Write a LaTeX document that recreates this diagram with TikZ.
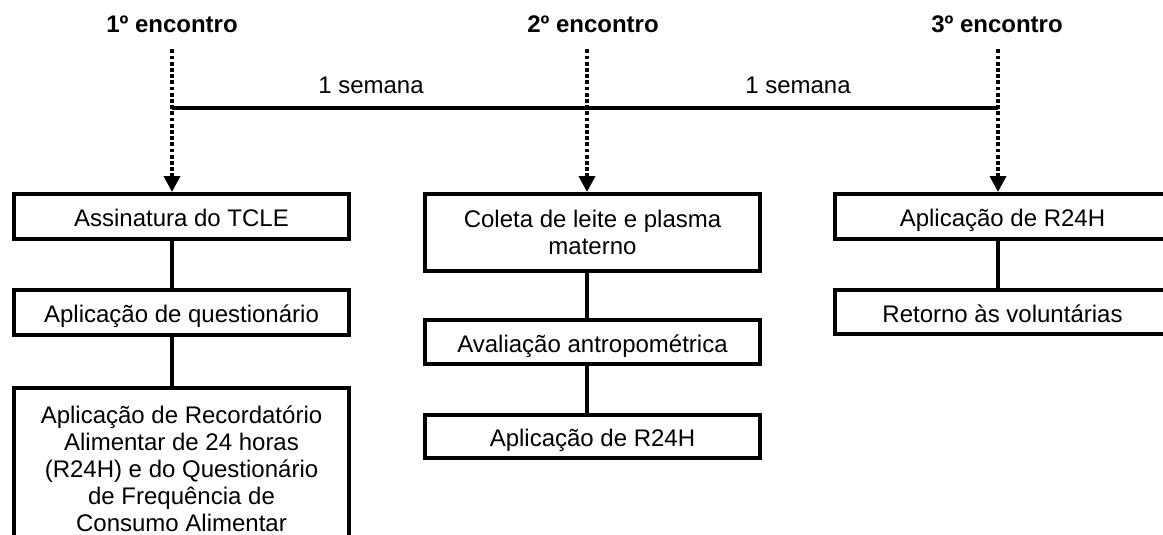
\documentclass[tikz,border=0pt]{standalone}
\usepackage{fontspec}
\setmainfont{Liberation Sans}
\usetikzlibrary{arrows.meta}
\tikzset{
  txt/.style={font=\fontsize{24}{27.5}\selectfont, inner sep=0pt},
  hdr/.style={font=\bfseries\fontsize{24}{27.5}\selectfont, inner xsep=0pt, inner ysep=16pt, anchor=base},
  boxnode/.style={draw, line width=4pt, font=\fontsize{24}{27}\selectfont, align=center,
    minimum width=335pt, inner sep=0pt},
  oneline/.style={text height=22pt, text depth=2pt},
  link/.style={line width=4pt},
  dotarrow/.style={line width=3.8pt, dash pattern=on 3.8pt off 2.4pt,
    -{Triangle[width=16pt,length=16pt]}},
}
\begin{document}
\begin{tikzpicture}[x=1pt,y=-1pt]
\useasboundingbox (0,0) rectangle (1163,535);
\clip (0,0) rectangle (1163,535);
\fill[white] (0,0) rectangle (1163,535);

% headers
\node[hdr] (h1) at (172,33) {1º encontro};
\node[hdr] (h2) at (593,33) {2º encontro};
\node[hdr] (h3) at (997,33) {3º encontro};

% timeline points
\coordinate (t1) at (172,108);
\coordinate (t2) at (587,108);
\coordinate (t3) at (998,108);

\node[txt, anchor=base] (w1) at (371,93) {1 semana};
\node[txt, anchor=base] (w2) at (798,93) {1 semana};

% boxes: first meeting
\node[boxnode, oneline, minimum height=45pt] (B1) at (181.5,216.5) {Assinatura do TCLE};
\node[boxnode, oneline, minimum height=45pt] (B2) at (181.5,312.5) {Aplicação de questionário};
\node[boxnode, minimum height=163pt] (B3) at (181.5,469)
  {Aplicação de Recordatório\\Alimentar de 24 horas\\(R24H) e do Questionário\\de Frequência de\\Consumo Alimentar};

% boxes: second meeting
\node[boxnode, minimum height=77pt] (M1) at (592.5,232.5) {Coleta de leite e plasma\\materno};
\node[boxnode, oneline, minimum height=44pt] (M2) at (592.5,342) {Avaliação antropométrica};
\node[boxnode, oneline, minimum height=43pt] (M3) at (592.5,436.5) {Aplicação de R24H};

% boxes: third meeting
\node[boxnode, oneline, minimum height=45pt] (R1) at (1002.5,216.5) {Aplicação de R24H};
\node[boxnode, oneline, minimum height=44pt] (R2) at (1002.5,312) {Retorno às voluntárias};

% timeline
\draw[line width=3.3pt] (t1) -- (t3);

% dotted arrows
\draw[dotarrow] (h1.south -| t1) -- (B1.north -| t1);
\draw[dotarrow] (h2.south -| t2) -- (M1.north -| t2);
\draw[dotarrow] (h3.south -| t3) -- (R1.north -| t3);

% connectors
\draw[link] (B1.south -| t1) -- (B2.north -| t1);
\draw[link] (B2.south -| t1) -- (B3.north -| t1);
\draw[link] (M1.south -| t2) -- (M2.north -| t2);
\draw[link] (M2.south -| t2) -- (M3.north -| t2);
\draw[link] (R1.south -| t3) -- (R2.north -| t3);
\end{tikzpicture}
\end{document}
